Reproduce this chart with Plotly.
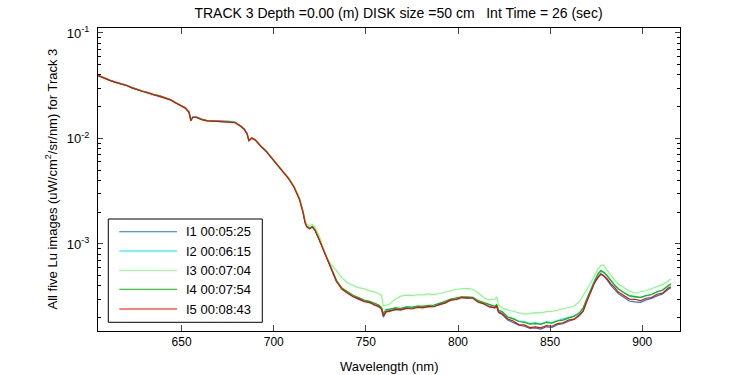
import plotly.graph_objects as go

# Wavelength (nm)
wavelength = [604.6,608,611,614,617,620,623,626,629,632,635,638,641,644,647,650,652,654,655,656,658,
              661,664,667,670,673,676,679,682,684,685.5,686.5,688,690,693,696,699,702,705,708,711,714,716,717,718,719.5,721,722.5,725,
              728,731,734,737,740,743,746,749,752,755,757,758.5,759.5,761,763,766,769,772,775,778,781,784,787,790,793,796,799,802,805,808,811,814,817,820,
              821,822,824,827,830,833,836,839,842,845,848,851,854,857,860,863,866,868,870,872,874,876,877.5,879,881,883,885,887,890,893,896,899,902,905,908,911,914,915.5]

UNIT = 1e-4  # values below are in units of 1e-4 uW/cm^2/sr/nm

i1 = [398,373,357,344,333,321,305,291,281,272,261,255,245,234,218,206,196,179,149,160,160,
      153,148,148,146,146,145,142,132,123,112,96.5,101.5,97.5,85.0,75.8,65.2,56.8,49.1,42.1,34.8,26.6,19.7,16.0,14.6,14.1,14.6,13.5,10.7,
      7.90,5.88,4.45,3.75,3.42,3.20,2.98,2.88,2.76,2.66,2.52,2.44,2.02,2.30,2.33,2.38,2.40,2.44,2.47,2.52,2.50,2.53,2.58,2.64,2.80,2.92,3.02,3.13,3.05,3.10,2.84,2.68,2.56,2.47,
      2.55,2.24,2.14,1.90,1.80,1.70,1.66,1.58,1.60,1.56,1.64,1.62,1.72,1.76,1.85,1.92,2.10,2.30,2.90,3.50,4.25,4.80,5.15,4.98,4.55,4.05,3.72,3.38,3.12,2.88,2.82,2.80,2.95,3.05,3.22,3.35,3.70,3.85]

i2 = [395,371,356,341,332,319,303,289,280,270,260,253,244,233,217,205,195,178,148,159,159,
      152,147,146,145,145,144,142,131,122,111,95.8,101,97.0,84.5,75.4,65.0,56.6,49.0,42.0,34.8,26.6,19.8,16.1,14.7,14.2,14.7,13.5,10.7,
      7.95,5.95,4.55,3.80,3.52,3.25,3.08,2.93,2.84,2.72,2.62,2.48,2.18,2.40,2.40,2.46,2.45,2.52,2.50,2.56,2.56,2.60,2.62,2.72,2.85,2.98,3.04,3.14,3.15,3.10,2.88,2.76,2.62,2.55,
      2.64,2.35,2.26,2.04,1.96,1.86,1.84,1.76,1.80,1.72,1.84,1.80,1.88,1.94,2.02,2.08,2.24,2.50,3.05,3.70,4.50,5.15,5.50,5.35,4.95,4.45,4.10,3.74,3.46,3.20,3.14,3.10,3.22,3.30,3.50,3.62,3.98,4.12]

i3 = [394,370,356,340,331,319,302,289,279,269,260,252,243,232,217,204,194,178,148,158,158,
      151,147,146,145,144,144,141,131,122,111,96,101,97,84.5,75.5,65,56.8,49.3,42.5,35.5,27.4,20.6,16.8,15.3,14.8,15.4,14.3,11.5,
      7.94,6.46,5.50,4.79,4.27,4.08,3.85,3.76,3.59,3.50,3.39,3.27,2.58,2.62,2.70,3.00,3.20,3.28,3.24,3.30,3.29,3.36,3.31,3.39,3.47,3.60,3.72,3.78,3.80,3.72,3.43,3.09,2.95,2.99,
      3.16,2.63,2.48,2.37,2.29,2.24,2.16,2.19,2.23,2.22,2.28,2.29,2.36,2.40,2.50,2.57,2.85,3.31,3.72,4.27,5.01,5.82,6.24,6.30,5.62,5.01,4.57,4.17,3.85,3.58,3.43,3.51,3.60,3.76,3.94,4.12,4.42,4.68]

i4 = [394,371,355,341,331,319,302,289,279,270,259,253,243,232,217,204,195,178,148,158,159,
      151,147,146,146,144,144,142,131,122,111,95.5,100.8,96.8,84.3,75.2,64.8,56.4,48.8,41.9,34.7,26.5,19.7,16.0,14.6,14.0,14.6,13.4,10.65,
      7.95,5.95,4.52,3.82,3.50,3.26,3.10,2.94,2.86,2.72,2.64,2.50,2.20,2.36,2.42,2.48,2.44,2.54,2.52,2.58,2.55,2.62,2.64,2.74,2.84,3.00,3.06,3.16,3.14,3.12,2.90,2.78,2.64,2.56,
      2.66,2.36,2.28,2.02,1.95,1.84,1.80,1.74,1.76,1.74,1.80,1.78,1.86,1.90,1.98,2.06,2.22,2.48,3.02,3.66,4.45,5.20,5.60,5.42,5.00,4.50,4.10,3.76,3.45,3.24,3.16,3.12,3.25,3.32,3.52,3.66,4.02,4.20]

i5 = [394,370,355,340,331,318,302,288,279,269,259,252,243,232,216,204,194,177,147,158,158,
      151,147,146,145,144,144,141,131,122,111,95.3,100.5,96.6,84.1,75.0,64.6,56.2,48.6,41.7,34.5,26.3,19.5,15.85,14.45,13.93,14.45,13.34,10.59,
      7.85,5.82,4.40,3.72,3.44,3.16,3.03,2.84,2.80,2.62,2.56,2.40,2.08,2.27,2.30,2.41,2.36,2.46,2.42,2.50,2.48,2.56,2.54,2.68,2.75,2.95,2.97,3.10,3.08,3.06,2.80,2.71,2.53,2.49,
      2.58,2.27,2.18,1.94,1.86,1.72,1.71,1.61,1.64,1.60,1.68,1.66,1.76,1.79,1.90,1.94,2.13,2.33,2.88,3.46,4.25,4.85,5.22,5.02,4.66,4.18,3.88,3.50,3.27,3.00,2.99,2.90,3.06,3.11,3.34,3.42,3.80,3.92]

series_names = ["I1 00:05:25", "I2 00:06:15", "I3 00:07:04", "I4 00:07:54", "I5 00:08:43"]
series_values = [i1, i2, i3, i4, i5]
colors = ["#1478DC", "#00E6F0", "#80FF80", "#00C000", "#FF0000"]

x_ticks = [650, 700, 750, 800, 850, 900]
y_ticks = [1e-3, 1e-2, 1e-1]
y_ticktext = ["10<sup>-3</sup>", "10<sup>-2</sup>", "10<sup>-1</sup>"]
y_minor_ticks = [2e-4, 3e-4, 4e-4, 5e-4, 6e-4, 7e-4, 8e-4, 9e-4,
                 2e-3, 3e-3, 4e-3, 5e-3, 6e-3, 7e-3, 8e-3, 9e-3,
                 2e-2, 3e-2, 4e-2, 5e-2, 6e-2, 7e-2, 8e-2, 9e-2]

FONT = "Liberation Sans, Arial, Helvetica, sans-serif"

fig = go.Figure()
for name, vals, c in zip(series_names, series_values, colors):
    fig.add_trace(go.Scatter(x=wavelength, y=[v * UNIT for v in vals], mode="lines",
                             name=name, line=dict(color=c, width=1.2), showlegend=False))

fig.update_layout(
    width=750, height=375,
    margin=dict(l=98, r=70, t=28, b=44),
    paper_bgcolor="white", plot_bgcolor="white",
    font=dict(family=FONT, size=12, color="black"),
    title=dict(text="TRACK 3 Depth =0.00 (m) DISK size =50 cm&nbsp;&nbsp; Int Time = 26 (sec)",
               x=398.5 / 750, xref="container", xanchor="center",
               y=1 - 13 / 375, yref="container", yanchor="middle",
               font=dict(size=14, family=FONT)),
)
fig.update_xaxes(range=[604.6, 920.5], tickvals=x_ticks, ticks="inside", ticklen=6,
                 showline=True, linecolor="black", linewidth=1, mirror="ticks",
                 showgrid=False, zeroline=False, tickfont=dict(size=12))
fig.update_yaxes(type="log", range=[-3.825, -0.953], tickvals=y_ticks, ticktext=y_ticktext,
                 ticks="inside", ticklen=5, showline=True, linecolor="black", linewidth=1,
                 mirror="ticks", showgrid=False, zeroline=False, tickfont=dict(size=13),
                 ticklabelstandoff=5,
                 minor=dict(tickvals=y_minor_ticks, ticks="inside", ticklen=3,
                            tickcolor="black", showgrid=False))

# axis labels
fig.add_annotation(text="Wavelength (nm)", xref="paper", yref="paper", x=0.5, y=(331 - 366) / 303,
                   xanchor="center", yanchor="middle", showarrow=False, font=dict(size=13))
fig.add_annotation(text="All five Lu images (uW/cm<sup>2</sup>/sr/nm) for Track 3", xref="paper", yref="paper",
                   x=(51 - 98) / 582, y=0.5, textangle=-90, xanchor="center", yanchor="middle",
                   showarrow=False, font=dict(size=13))

# legend box (drawn manually, MATLAB style)
lx0, lx1 = (108.3 - 98) / 582, (262.3 - 98) / 582
ly0, ly1 = (331 - 322.3) / 303, (331 - 219) / 303
fig.add_shape(type="rect", xref="paper", yref="paper", x0=lx0, x1=lx1, y0=ly0, y1=ly1,
              line=dict(color="black", width=1), fillcolor="white", layer="above")
row_px = [231.7, 251.0, 270.3, 289.3, 309.0]
for name, c, py in zip(series_names, colors, row_px):
    yy = (331 - py) / 303
    fig.add_shape(type="line", xref="paper", yref="paper", x0=(119.3 - 98) / 582, x1=(177 - 98) / 582,
                  y0=yy, y1=yy, line=dict(color=c, width=1.1), layer="above")
    fig.add_annotation(text=name, xref="paper", yref="paper", x=(183.5 - 98) / 582, y=yy,
                       xanchor="left", yanchor="middle", showarrow=False, font=dict(size=13))

fig.write_html("out.html", config={"displayModeBar": False},
               post_script="document.body.style.margin='0';")
